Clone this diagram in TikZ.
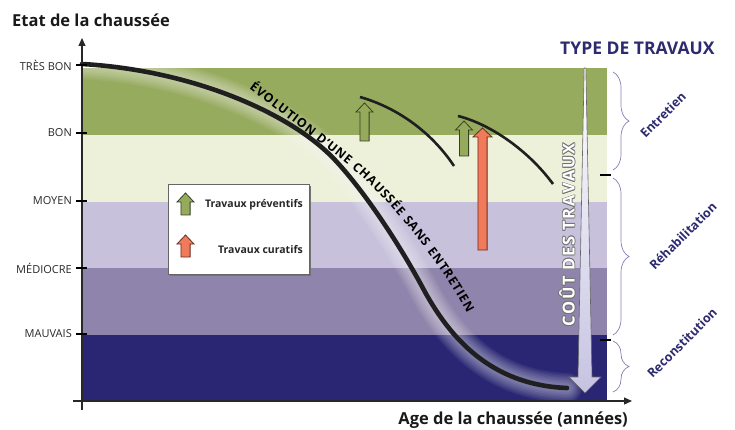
\documentclass[tikz,border=0pt]{standalone}
\usepackage{fontspec}
\setmainfont{Open Sans}
\usetikzlibrary{decorations.text,decorations.pathreplacing,arrows.meta}
\definecolor{gdark}{RGB}{151,171,95}
\definecolor{glight}{RGB}{237,241,217}
\definecolor{lav}{RGB}{199,193,219}
\definecolor{pmid}{RGB}{143,132,171}
\definecolor{navy}{RGB}{42,38,115}
\definecolor{txtnavy}{RGB}{45,42,112}
\definecolor{bracecol}{RGB}{135,125,185}
\definecolor{arrgreen}{RGB}{150,170,92}
\definecolor{arrgreenline}{RGB}{55,65,35}
\definecolor{arrorange}{RGB}{240,122,90}
\definecolor{arrorangeline}{RGB}{110,45,35}
\definecolor{costarr}{RGB}{198,195,226}
\definecolor{axcol}{RGB}{40,40,40}
\newcommand\costlabel{C\kern1.6ptO\kern1.6ptÛ\kern1.6ptT\kern1.6pt\ D\kern1.6ptE\kern1.6ptS\kern1.6pt\ T\kern1.6ptR\kern1.6ptA\kern1.6ptV\kern1.6ptA\kern1.6ptU\kern1.6ptX}
\tikzset{
  axisline/.style={draw=axcol, line width=1.2pt, -{Triangle[length=8pt,width=7pt]}},
  ytick/.style={draw=black, line width=2pt},
  ylab/.style={anchor=east, font=\fontsize{11}{13}\selectfont, text=axcol, inner sep=0pt},
  axtitle/.style={font=\bfseries\fontsize{16.5}{19}\selectfont, text=black!90, inner sep=0pt},
  sidelabel/.style={font=\fontsize{12.5}{14}\selectfont\bfseries, text=txtnavy, rotate=45, inner sep=0pt},
  bracestyle/.style={draw=bracecol, line width=0.7pt, decorate, decoration={brace, amplitude=16pt}},
  legtext/.style={anchor=east, font=\bfseries\fontsize{10.5}{12}\selectfont, text=black!85, inner sep=0pt},
  arcline/.style={draw=black!88, line width=2.6pt},
  pics/uparr/.style n args={4}{code={
    \draw[fill=#3, draw=#4, line width=0.8pt, line join=miter]
      (0,0) -- (#2,9) -- (4.6,9) -- (4.6,#1) -- (-4.6,#1) -- (-4.6,9) -- (-#2,9) -- cycle;
  }},
  costtxt/.style={font=\bfseries\fontsize{16.5}{19}\selectfont, rotate=90, inner sep=0pt},
}
\def\curvepath{(82,64) .. controls (190,70) and (290,112) .. (335,160) .. controls (365,192) and (400,245) .. (425,292) .. controls (450,337) and (490,385) .. (567,388)}
\begin{document}
\begin{tikzpicture}[x=1pt,y=-1pt]
\useasboundingbox (0,0) rectangle (735,430);
% bands
\fill[gdark] (82,68) rectangle (607,135);
\fill[glight] (82,135) rectangle (607,202);
\fill[lav] (82,202) rectangle (607,268);
\fill[pmid] (82,268) rectangle (607,335);
\fill[navy] (82,335) rectangle (607,401);
% legend
\fill[black!55] (170,186) rectangle (310.5,275.5);
\node[draw=black!60, line width=0.8pt, fill=white, minimum width=141pt, minimum height=90pt, inner sep=0pt, anchor=north west] (legend) at (168,184) {};
\pic at (185.5,193) {uparr={22}{8.5}{arrgreen}{arrgreenline}};
\pic at (185.5,235) {uparr={22}{8.5}{arrorange}{arrorangeline}};
\node[legtext] (prev) at (303,205) {Travaux préventifs};
\node[legtext] (cura) at (303,250) {Travaux curatifs};
% maintenance arcs and arrows
\draw[arcline] (360,97) .. controls (395,107) and (430,130) .. (454,166);
\draw[arcline] (458,116) .. controls (490,124) and (528,150) .. (553,184);
\pic at (364.5,103) {uparr={38}{8.5}{arrgreen}{arrgreenline}};
\pic at (464,121) {uparr={35}{8.5}{arrgreen}{arrgreenline}};
\pic at (482.5,128) {uparr={122}{9.5}{arrorange}{arrorangeline}};
% main curve with soft glow
\foreach \w in {30,27,24,21,18,15,12,9}
  \draw[white, opacity=0.06, line width=\w pt, line cap=round] \curvepath;
\draw[black!88, line width=4.6pt, line cap=round] \curvepath;
\path[decorate, decoration={text along path, text align=fit to path,
  text={|\bfseries\fontsize{12.3}{14}\selectfont|ÉVOLUTION D'UNE CHAUSSÉE SANS ENTRETIEN}}]
  (249,89) .. controls (285,116) and (320,142) .. (354,170) .. controls (390,200) and (440,262) .. (467,313);
% cost arrow
\shade[top color=white, bottom color=costarr, draw=black!60, line width=0.6pt]
  (584.2,68) -- (585.8,68) -- (592,377) -- (601,377) -- (585,393) -- (569,377) -- (578,377) -- cycle;
\foreach \dx/\dy [count=\i] in {0.8/0,-0.8/0,0/0.8,0/-0.8,0.6/0.6,-0.6/0.6,0.6/-0.6,-0.6/-0.6}
  \node[costtxt, text=black!55] (coutsh\i) at (567+\dx,235+\dy) {\costlabel};
\node[costtxt, text=white] (cout) at (567,235) {\costlabel};
% right side ticks and braces
\draw[ytick, line width=1.5pt] (600,175) -- (611,175);
\draw[ytick, line width=1.5pt] (600,340) -- (611,340);
\draw[bracestyle] (613,72) -- (613,170);
\draw[bracestyle] (613,178) -- (613,335);
\draw[bracestyle] (613,341) -- (613,392);
\node[sidelabel] (entretien) at (663,115) {Entretien};
\node[sidelabel] (rehab) at (683,236) {Réhabilitation};
\node[sidelabel] (recons) at (682,343) {Reconstitution};
\node[font=\bfseries\fontsize{17.5}{20}\selectfont, text=txtnavy, anchor=base west, inner sep=0pt] (type) at (560,55) {TYPE DE TRAVAUX};
% axes
\coordinate (ybot) at (82,410);
\coordinate (ytop) at (82,38);
\coordinate (xleft) at (73,401);
\coordinate (xright) at (632,401);
\draw[axisline] (ybot) -- (ytop);
\draw[axisline] (xleft) -- (xright);
\foreach \yy in {65,133,201,268,334} \draw[ytick] (76,\yy) -- (87,\yy);
\node[ylab] (tb) at (72,65) {TRÈS BON};
\node[ylab] (bon) at (72,133) {BON};
\node[ylab] (moy) at (72,201) {MOYEN};
\node[ylab] (med) at (72,268) {MÉDIOCRE};
\node[ylab] (mau) at (72,334) {MAUVAIS};
\node[axtitle, anchor=base west] (ytitle) at (12,27) {Etat de la chaussée};
\node[axtitle, anchor=base east] (xtitle) at (628,424) {Age de la chaussée (années)};
\end{tikzpicture}
\end{document}
